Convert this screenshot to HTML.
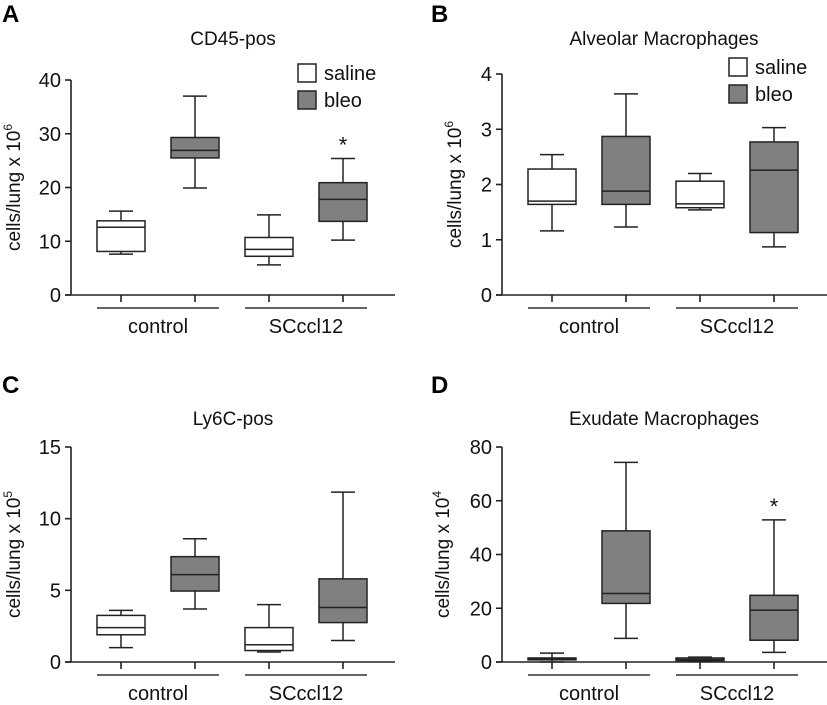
<!DOCTYPE html>
<html><head><meta charset="utf-8"><style>body{margin:0;background:#fff}svg{display:block;font-family:"Liberation Sans",Arial,sans-serif}</style></head>
<body>
<svg id="s" width="827" height="705" viewBox="0 0 827 705"></svg>
<script>
const groupLabels = ["control","SCcl12"];
const seriesNames = ["saline","bleo"];
const titlesA = "CD45-pos", titlesB = "Alveolar Macrophages", titlesC = "Ly6C-pos", titlesD = "Exudate Macrophages";
const ticksA = [0,10,20,30,40];
const ticksB = [0,1,2,3,4];
const ticksC = [0,5,10,15];
const ticksD = [0,20,40,60,80];
// [min,q1,median,q3,max] for saline-control, bleo-control, saline-SCccl12, bleo-SCccl12
const boxesA = [[7.6,8.1,12.6,13.8,15.6],[19.9,25.5,26.9,29.3,37.0],[5.6,7.2,8.5,10.7,14.9],[10.2,13.7,17.8,20.9,25.4]];
const boxesB = [[1.16,1.64,1.70,2.28,2.54],[1.23,1.64,1.88,2.87,3.64],[1.54,1.58,1.65,2.06,2.2],[0.87,1.13,2.26,2.77,3.03]];
const boxesC = [[1.0,1.9,2.4,3.25,3.6],[3.7,4.95,6.1,7.35,8.6],[0.7,0.8,1.2,2.4,4.0],[1.5,2.75,3.8,5.8,11.85]];
const boxesD = [[0,0.8,1.2,1.5,3.3],[8.8,21.8,25.5,48.8,74.3],[0.3,0.5,1.0,1.5,1.8],[3.6,8.1,19.3,24.8,52.9]];
const starsA = [3], starsB = [], starsC = [], starsD = [3];

const NS="http://www.w3.org/2000/svg", svg=document.getElementById('s');
function mk(t,a,p){const e=document.createElementNS(NS,t);for(const k in a)e.setAttribute(k,a[k]);(p||svg).appendChild(e);return e;}

function panel(o){
  const g=mk('g',{});
  
  
  const ax=o.ax, y0=o.y0, yT=o.yT, xEnd=o.xEnd, tk=o.ticks, vmax=tk[tk.length-1];
  const y=v=>y0-(v/vmax)*(y0-yT);
  const cx=i=>ax+50+i*74;
  let t=mk('text',{x:o.lx,y:o.ly,'font-size':24,'font-weight':'bold',fill:'#000'},g);t.textContent=o.letter;
  
  t=mk('text',{x:ax+162,y:o.ty,'font-size':19,'text-anchor':'middle',fill:'#111'},g);t.textContent=o.title;
  
  let l=mk('line',{x1:ax,y1:yT,x2:ax,y2:y0,stroke:'#222','stroke-width':1.6},g);
  
  l=mk('line',{x1:ax-6,y1:y0,x2:xEnd,y2:y0,stroke:'#222','stroke-width':1.6},g);
  
  tk.forEach(v=>{
    mk('line',{x1:ax-6,y1:y(v),x2:ax,y2:y(v),stroke:'#222','stroke-width':1.6},g);
    const tt=mk('text',{x:ax-10,y:y(v)+7,'font-size':20,'text-anchor':'end',fill:'#111'},g);tt.textContent=v;
    
  });
  const yc=(yT+y0)/2;
  t=mk('text',{x:0,y:0,'font-size':19,'text-anchor':'middle',fill:'#111',transform:`translate(${ax-o.yo},${yc}) rotate(-90)`},g);
  t.innerHTML='cells/lung x 10<tspan dy="-8" font-size="12">'+o.exp+'</tspan>';
  
  o.boxes.forEach((b,i)=>{
    const c=cx(i), fill=i%2?'#808080':'#fff';
    mk('line',{x1:c,y1:y0,x2:c,y2:y0+7,stroke:'#222','stroke-width':1.6},g);
    const bg=mk('g',{},g);
    
    
    mk('line',{x1:c,y1:y(b[0]),x2:c,y2:y(b[4]),stroke:'#222','stroke-width':1.5},bg);
    mk('line',{x1:c-12,y1:y(b[0]),x2:c+12,y2:y(b[0]),stroke:'#222','stroke-width':1.5},bg);
    mk('line',{x1:c-12,y1:y(b[4]),x2:c+12,y2:y(b[4]),stroke:'#222','stroke-width':1.5},bg);
    mk('rect',{x:c-24,y:y(b[3]),width:48,height:Math.max(1,y(b[1])-y(b[3])),fill:fill,stroke:'#222','stroke-width':1.5},bg);
    mk('line',{x1:c-24,y1:y(b[2]),x2:c+24,y2:y(b[2]),stroke:'#222','stroke-width':1.5},bg);
  });
  o.stars.forEach(i=>{const s=mk('text',{x:cx(i),y:y(o.boxes[i][4])-6,'font-size':22,'text-anchor':'middle',fill:'#111'},g);s.textContent='*';
    });
  [0,1].forEach(k=>{
    const a=cx(2*k)-24,bb=cx(2*k+1)+24;
    const gl=mk('line',{x1:a,y1:y0+13,x2:bb,y2:y0+13,stroke:'#333','stroke-width':1.5},g);
    
    const lt=mk('text',{x:(a+bb)/2,y:y0+38,'font-size':20,'text-anchor':'middle',fill:'#111'},g);lt.textContent=k?'SCccl12':groupLabels[0];
    
  });
  if(o.legend){
    const lx=ax+227;
    seriesNames.forEach((n,i)=>{
      const le=mk('g',{},g);
      
      mk('rect',{x:lx,y:yT-16+i*27,width:18,height:18,fill:i?'#808080':'#fff',stroke:'#222','stroke-width':1.5},le);
      const lt=mk('text',{x:lx+26,y:yT-16+i*27+16,'font-size':20,fill:'#111'},le);lt.textContent=n;
    });
  }
}
panel({letter:'A',lx:2,ly:22,title:titlesA,ty:45,ax:71,y0:295,yT:80,xEnd:395,ticks:ticksA,boxes:boxesA,stars:starsA,exp:'6',yo:51,legend:true});
panel({letter:'B',lx:431,ly:22,title:titlesB,ty:45,ax:502,y0:295,yT:74,xEnd:827,ticks:ticksB,boxes:boxesB,stars:starsB,exp:'6',yo:41,legend:true});
panel({letter:'C',lx:2,ly:393,title:titlesC,ty:425,ax:71,y0:662,yT:447,xEnd:395,ticks:ticksC,boxes:boxesC,stars:starsC,exp:'5',yo:51,legend:false});
panel({letter:'D',lx:431,ly:393,title:titlesD,ty:425,ax:502,y0:662,yT:447,xEnd:827,ticks:ticksD,boxes:boxesD,stars:starsD,exp:'4',yo:53,legend:false});
</script>
</body></html>
